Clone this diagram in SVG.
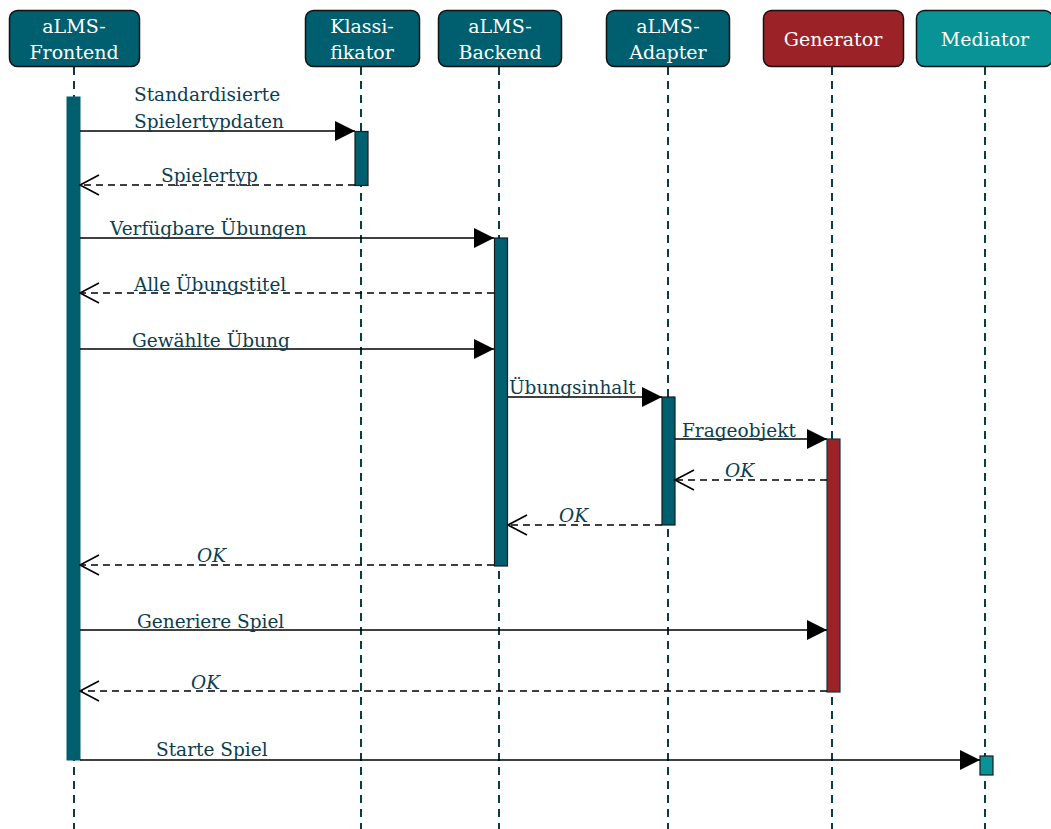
<svg xmlns="http://www.w3.org/2000/svg" width="1051" height="829" viewBox="0 0 1051 829">
<style>
.hd{stroke:#111;stroke-width:1.5}
.ht{font-family:"DejaVu Serif","Liberation Serif",serif;font-size:19px;fill:#fff;text-anchor:middle}
.ll{stroke:#0b3a4a;stroke-width:2;stroke-dasharray:8,6;fill:none}
.act{stroke:#1a1a1a;stroke-width:1.2}
.msg{stroke:#000;stroke-width:1.6;fill:none}
.ret{stroke:#000;stroke-width:1.6;fill:none;stroke-dasharray:7,5}
.lb{font-family:"DejaVu Serif","Liberation Serif",serif;font-size:18.5px;fill:#0b3d4f}
.it{font-style:italic}
</style>
<defs>
<marker id="fa" markerWidth="21" markerHeight="20" refX="20" refY="10" orient="auto" markerUnits="userSpaceOnUse">
<path d="M0,0 L20,10 L0,20 Z" fill="#000"/>
</marker>
<marker id="oa" markerWidth="22" markerHeight="22" refX="20" refY="11" orient="auto" markerUnits="userSpaceOnUse">
<path d="M1,1 L20,11 L1,21" fill="none" stroke="#000" stroke-width="1.6"/>
</marker>
</defs>
<g id="lifelines">
<line class="ll" x1="74" y1="67" x2="74" y2="829"/>
<line class="ll" x1="361" y1="67" x2="361" y2="829"/>
<line class="ll" x1="499" y1="67" x2="499" y2="829"/>
<line class="ll" x1="668" y1="67" x2="668" y2="829"/>
<line class="ll" x1="832" y1="67" x2="832" y2="829"/>
<line class="ll" x1="985" y1="67" x2="985" y2="829"/>
</g>
<g id="frontend">
<rect class="hd" x="9.5" y="10.5" width="130" height="56" rx="8" fill="#005f6f"/>
<text class="ht" x="74" y="33">aLMS-</text>
<text class="ht" x="74" y="59">Frontend</text>
</g>
<g id="klassifikator">
<rect class="hd" x="305.5" y="10.5" width="114" height="56" rx="8" fill="#005f6f"/>
<text class="ht" x="362" y="33">Klassi-</text>
<text class="ht" x="362" y="59">fikator</text>
</g>
<g id="backend">
<rect class="hd" x="438.5" y="10.5" width="123" height="56" rx="8" fill="#005f6f"/>
<text class="ht" x="500" y="33">aLMS-</text>
<text class="ht" x="500" y="59">Backend</text>
</g>
<g id="adapter">
<rect class="hd" x="606.5" y="10.5" width="123" height="56" rx="8" fill="#005f6f"/>
<text class="ht" x="668" y="33">aLMS-</text>
<text class="ht" x="668" y="59">Adapter</text>
</g>
<g id="generator">
<rect class="hd" x="763.5" y="10.5" width="140" height="56" rx="8" fill="#9b2226"/>
<text class="ht" x="833" y="46">Generator</text>
</g>
<g id="mediator">
<rect class="hd" x="916.5" y="10.5" width="136" height="56" rx="8" fill="#0a9396"/>
<text class="ht" x="985" y="46">Mediator</text>
</g>
<g id="activations">
<rect x="67" y="97" width="13" height="663" fill="#005f6f" stroke="#005f6f" stroke-width="1"/>
<rect class="act" x="355" y="131.5" width="13" height="54" fill="#005f6f"/>
<rect class="act" x="494.5" y="238" width="13" height="328" fill="#005f6f"/>
<rect class="act" x="662" y="397" width="13" height="128" fill="#005f6f"/>
<rect x="827" y="439" width="13" height="253" fill="#9b2226" stroke="#0b3a4a" stroke-width="1.2"/>
<rect class="act" x="980" y="756" width="13" height="19" fill="#0a9396"/>
</g>
<g id="connectors">
<line class="msg" x1="80" y1="131" x2="355" y2="131" marker-end="url(#fa)"/>
<line class="ret" x1="355" y1="185" x2="80" y2="185" marker-end="url(#oa)"/>
<line class="msg" x1="80" y1="238" x2="494" y2="238" marker-end="url(#fa)"/>
<line class="ret" x1="494" y1="293" x2="80" y2="293" marker-end="url(#oa)"/>
<line class="msg" x1="80" y1="349" x2="494" y2="349" marker-end="url(#fa)"/>
<line class="msg" x1="508" y1="397" x2="662" y2="397" marker-end="url(#fa)"/>
<line class="msg" x1="675" y1="439" x2="827" y2="439" marker-end="url(#fa)"/>
<line class="ret" x1="827" y1="480" x2="675" y2="480" marker-end="url(#oa)"/>
<line class="ret" x1="662" y1="525" x2="508" y2="525" marker-end="url(#oa)"/>
<line class="ret" x1="494" y1="565" x2="80" y2="565" marker-end="url(#oa)"/>
<line class="msg" x1="80" y1="630" x2="827" y2="630" marker-end="url(#fa)"/>
<line class="ret" x1="827" y1="691" x2="80" y2="691" marker-end="url(#oa)"/>
<line class="msg" x1="80" y1="760" x2="980" y2="760" marker-end="url(#fa)"/>
</g>
<g id="labels">
<text class="lb" x="134" y="101">Standardisierte</text>
<text class="lb" x="134" y="128">Spielertypdaten</text>
<text class="lb" x="161" y="182">Spielertyp</text>
<text class="lb" x="110" y="235">Verfügbare Übungen</text>
<text class="lb" x="134" y="291">Alle Übungstitel</text>
<text class="lb" x="132" y="347">Gewählte Übung</text>
<text class="lb" x="509" y="394">Übungsinhalt</text>
<text class="lb" x="682" y="437">Frageobjekt</text>
<text class="lb it" x="725" y="477">OK</text>
<text class="lb it" x="559" y="522">OK</text>
<text class="lb it" x="197" y="562">OK</text>
<text class="lb" x="137" y="628">Generiere Spiel</text>
<text class="lb it" x="191" y="689">OK</text>
<text class="lb" x="156" y="756">Starte Spiel</text>
</g>
</svg>
